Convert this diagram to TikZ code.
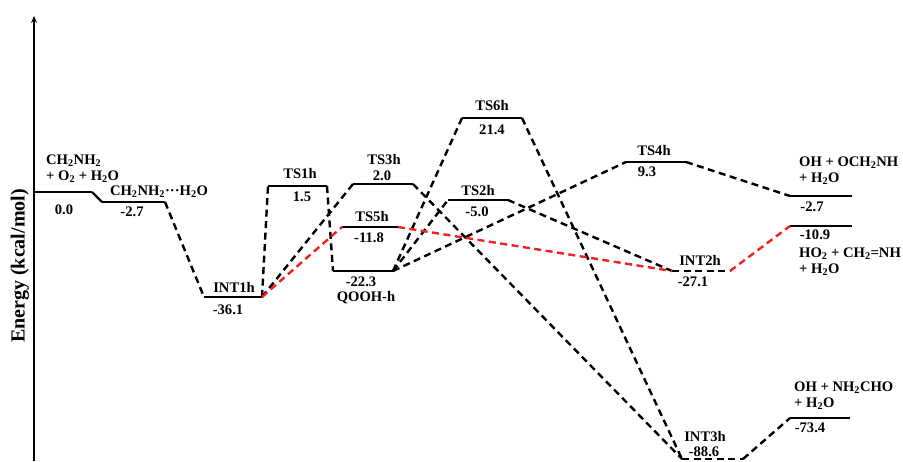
\documentclass[tikz,border=0pt]{standalone}
\usepackage{fontspec}
\setmainfont{Liberation Serif}
\usepackage{tikz}
\usetikzlibrary{arrows.meta,positioning,calc}
\definecolor{pathred}{HTML}{F02020}
\tikzset{lvl/.style={line width=2.8pt},
  conn/.style={line width=2.4pt,dash pattern=on 7pt off 4.5pt},
  rconn/.style={conn,draw=pathred},
  lab/.style={font=\fontsize{14.6}{16}\selectfont\bfseries,inner sep=0pt},
  spec/.style={lab,align=left,anchor=west}}
\begin{document}
\begin{tikzpicture}[x=1pt,y=-1pt]
\useasboundingbox (0,0) rectangle (903,461);
% axis
\draw[line width=2.2pt,-{Stealth[length=7pt,width=6pt]}] (34,461) coordinate (ax0) -- (34,16) coordinate (ax1);
\node[lab,font=\fontsize{20}{22}\selectfont\bfseries,rotate=90] (ylab) at (20,266) {Energy (kcal/mol)};
% levels
\draw[lvl] (34,192) coordinate (rl) -- (92,192) coordinate (rr);
\draw[lvl] (102,202) coordinate (cl) -- (165,202) coordinate (cr);
\draw[lvl] (204,297) coordinate (i1l) -- (262,297) coordinate (i1r);
\draw[lvl] (268,186) coordinate (t1l) -- (327,186) coordinate (t1r);
\draw[lvl] (333,271) coordinate (ql) -- (393,271) coordinate (qr);
\draw[lvl] (353,184) coordinate (t3l) -- (413,184) coordinate (t3r);
\draw[lvl] (342,227) coordinate (t5l) -- (398,227) coordinate (t5r);
\draw[lvl] (462,118) coordinate (t6l) -- (522,118) coordinate (t6r);
\draw[lvl] (448,200) coordinate (t2l) -- (508,200) coordinate (t2r);
\draw[lvl] (626,162) coordinate (t4l) -- (686,162) coordinate (t4r);
\draw[conn] (672,271) coordinate (i2l) -- (730,271) coordinate (i2r);
\draw[conn] (682,459) coordinate (i3l) -- (743,459) coordinate (i3r);
\draw[lvl] (790,196) coordinate (p1l) -- (852,196) coordinate (p1r);
\draw[lvl] (790,226) coordinate (p2l) -- (852,226) coordinate (p2r);
\draw[lvl] (790,418) coordinate (p3l) -- (850,418) coordinate (p3r);
% connectors
\draw[line width=2.2pt] (rr) -- (cl);
\draw[conn] (cr) -- (i1l);
\draw[conn] (i1r) -- (t1l);
\draw[conn] (i1r) -- (t3l);
\draw[conn] (t1r) -- (ql);
\draw[conn] (qr) -- (t6l);
\draw[conn] (qr) -- (t2l);
\draw[conn] (qr) -- (t4l);
\draw[conn] (t3r) -- (i3l);
\draw[conn] (t6r) -- (i3l);
\draw[conn] (t2r) -- (i2l);
\draw[conn] (t4r) -- (p1l);
\draw[conn] (i3r) -- (p3l);
\draw[rconn] (i1r) -- (t5l);
\draw[rconn] (t5r) -- (i2l);
\draw[rconn] (i2r) -- (p2l);
% labels
\node[spec] (rname) at (46,169) {CH\textsubscript{2}NH\textsubscript{2}\\[0pt]+ O\textsubscript{2} + H\textsubscript{2}O};
\node[lab] (rval) at (64,210) {0.0};
\node[lab] (cname) at (159,192) {CH\textsubscript{2}NH\textsubscript{2}···H\textsubscript{2}O};
\node[lab] (cval) at (132,212) {-2.7};
\node[lab] (i1name) at (234,287) {INT1h};
\node[lab] (i1val) at (228,310) {-36.1};
\node[lab] (t1name) at (300,174) {TS1h};
\node[lab] (t1val) at (302,197) {1.5};
\node[lab] (t3name) at (384,160) {TS3h};
\node[lab] (t3val) at (382,176) {2.0};
\node[lab] (t5name) at (372,217) {TS5h};
\node[lab] (t5val) at (369,238) {-11.8};
\node[lab] (qval) at (361,282) {-22.3};
\node[lab] (qname) at (366,298) {QOOH-h};
\node[lab] (t6name) at (492,106) {TS6h};
\node[lab] (t6val) at (492,130) {21.4};
\node[lab] (t2name) at (478,191) {TS2h};
\node[lab] (t2val) at (477,212) {-5.0};
\node[lab] (t4name) at (654,151) {TS4h};
\node[lab] (t4val) at (647,172) {9.3};
\node[lab] (i2name) at (700,260) {INT2h};
\node[lab] (i2val) at (693,282) {-27.1};
\node[lab] (i3name) at (705,437) {INT3h};
\node[lab] (i3val) at (704,452) {-88.6};
\node[spec] (p1name) at (799,171) {OH + OCH\textsubscript{2}NH\\[0pt]+ H\textsubscript{2}O};
\node[lab] (p1val) at (812,207) {-2.7};
\node[lab] (p2val) at (815,235) {-10.9};
\node[spec] (p2name) at (799,262) {HO\textsubscript{2} + CH\textsubscript{2}=NH\\[0pt]+ H\textsubscript{2}O};
\node[spec] (p3name) at (794,396) {OH + NH\textsubscript{2}CHO\\[0pt]+ H\textsubscript{2}O};
\node[lab] (p3val) at (810,428) {-73.4};
\end{tikzpicture}
\end{document}
